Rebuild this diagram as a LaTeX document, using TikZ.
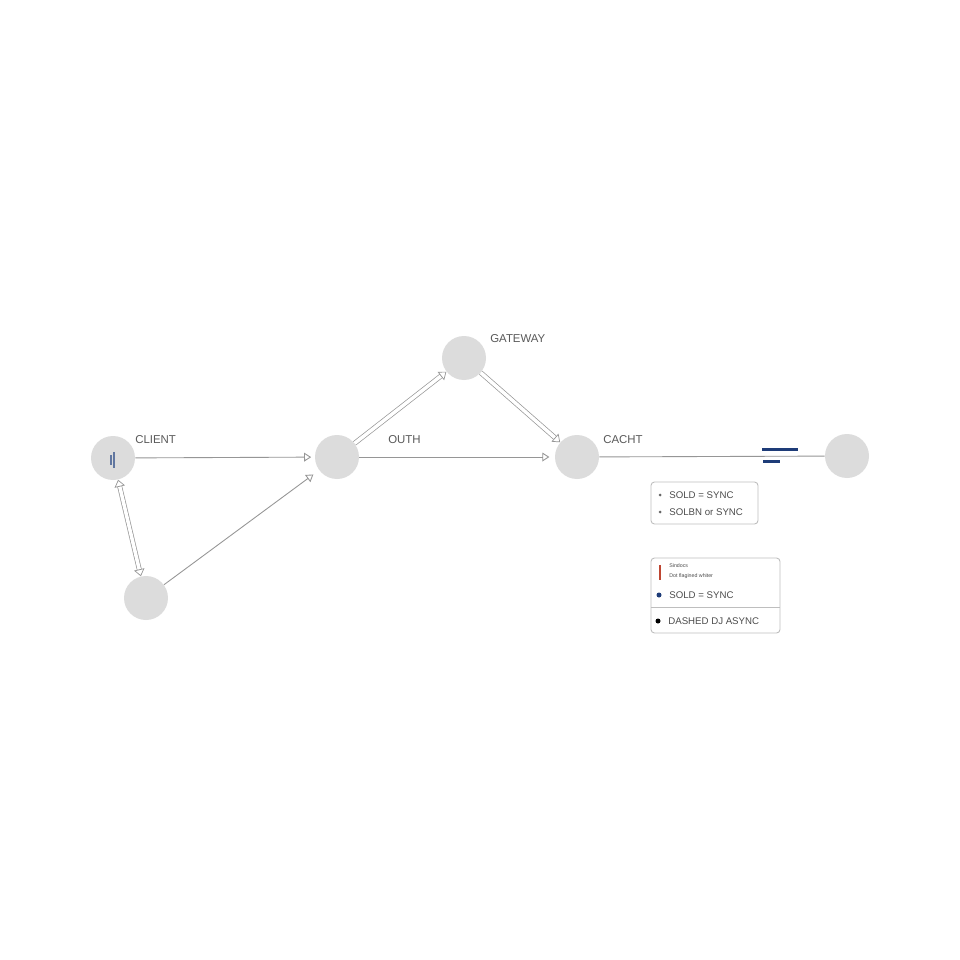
\documentclass[tikz,border=0pt]{standalone}
\usepackage{fontspec}
\setmainfont{Liberation Sans}
\usetikzlibrary{arrows.meta}
\definecolor{nodegray}{RGB}{220,220,220}
\definecolor{linegray}{RGB}{150,150,150}
\definecolor{boxgray}{RGB}{190,190,190}
\definecolor{markblue}{RGB}{30,60,120}
\definecolor{markred}{RGB}{190,70,50}
\tikzset{
  svc/.style={circle, fill=nodegray, minimum size=0.88cm, inner sep=0pt},
  svclbl/.style={inner sep=0pt, font=\fontsize{6.5}{7.5}\selectfont, text=black!65},
  lnk/.style={draw=linegray, line width=0.5pt, -{Triangle[open, length=4pt, width=5pt]}},
  dbl/.style={draw=linegray, double=white, double distance=2pt, line width=0.4pt, -{Triangle[open, length=4pt, width=6pt]}},
  legbox/.style={draw=boxgray, rounded corners=2pt, line width=0.5pt},
  legtext/.style={anchor=west, inner sep=0pt, font=\fontsize{5.5}{6}\selectfont, text=black!70}
}
\begin{document}
\begin{tikzpicture}[x=0.02cm, y=-0.02cm]
  \useasboundingbox[fill=white] (0,0) rectangle (960,960);
  % services
  \node[svc] (client) at (113,458) {};
  \node[svc] (auth) at (337,457) {};
  \node[svc] (gateway) at (464,358) {};
  \node[svc] (cache) at (577,457) {};
  \node[svc] (store) at (847,456) {};
  \node[svc] (worker) at (146,598) {};
  \node[svclbl, anchor=west] (clientlbl) at (135,440) {CLIENT};
  \node[svclbl, anchor=west] (gatewaylbl) at (490,339) {GATEWAY};
  \node[svclbl, anchor=west] (authlbl) at (388,440) {OUTH};
  \node[svclbl, anchor=west] (cachelbl) at (603,440) {CACHT};
  % connectors
  \draw[lnk, shorten >=2pt] (client) -- (auth);
  \draw[lnk, shorten >=4pt] (worker) -- (auth);
  \draw[dbl, {Triangle[open, length=4pt, width=6pt]}-{Triangle[open, length=4pt, width=6pt]}] (client) -- (worker);
  \draw[dbl] (auth) -- (gateway);
  \draw[dbl] (gateway) -- (cache);
  \draw[lnk, shorten >=3pt] (auth) -- (cache);
  \draw[draw=linegray, line width=0.5pt] (cache) -- (store);
  % blue marks
  \fill[markblue] (762,448) rectangle (798,451);
  \fill[markblue] (763,460) rectangle (780,463);
  \fill[markblue!70] (113,452) rectangle (115,468);
  \fill[markblue!70] (110,455) rectangle (112,465);
  % legend
  \draw[legbox] (651,482) rectangle (758,524);
  \fill[black!60] (660,495) circle [radius=1.5];
  \node[legtext] (l1) at (669,495) {SOLD = SYNC};
  \fill[black!60] (660,512) circle [radius=1.5];
  \node[legtext] (l2) at (669,512) {SOLBN or SYNC};
  \draw[legbox] (651,558) rectangle (780,633);
  \draw[markred, line width=1pt] (660,565) -- (660,580);
  \node[legtext, font=\fontsize{3}{3.5}\selectfont] (l3) at (669,566) {Sindocs};
  \node[legtext, font=\fontsize{3}{3.5}\selectfont] (l4) at (669,576) {Dot flagined whiter};
  \fill[markblue] (659,595) circle [radius=2.5];
  \node[legtext] (l5) at (669,595) {SOLD = SYNC};
  \draw[boxgray, line width=0.5pt] (651,607) -- (780,607);
  \fill[black] (658,621) circle [radius=2.5];
  \node[legtext] (l6) at (668,621) {DASHED DJ ASYNC};
\end{tikzpicture}
\end{document}
